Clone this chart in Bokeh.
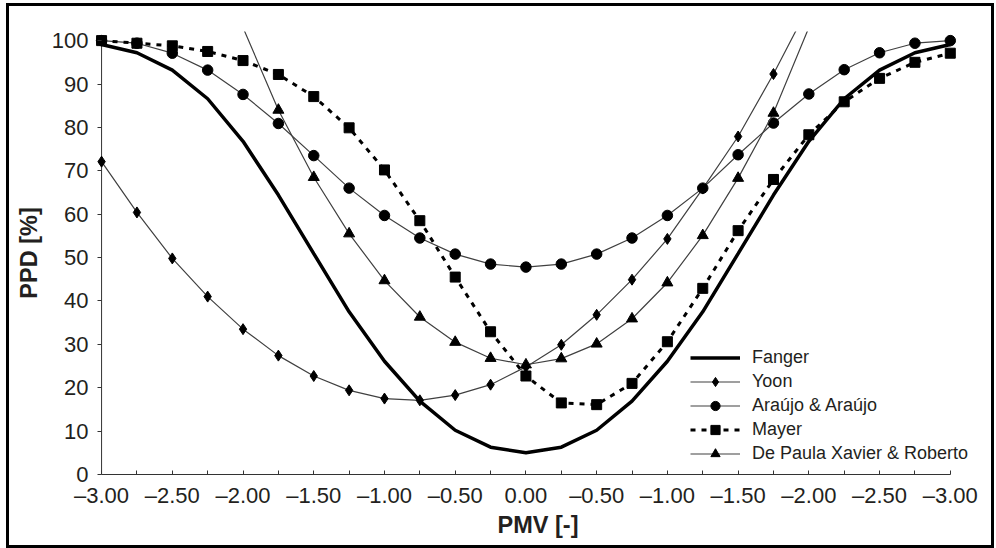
import math
from bokeh.plotting import figure
from bokeh.models import (Range1d, FixedTicker, Legend, LegendItem, ColumnDataSource)
from bokeh.embed import file_html
from bokeh.resources import INLINE

nan = float("nan")

# PMV values (x)
pmv = [-3.00, -2.75, -2.50, -2.25, -2.00, -1.75, -1.50, -1.25, -1.00, -0.75, -0.50, -0.25,
       0.00, 0.25, 0.50, 0.75, 1.00, 1.25, 1.50, 1.75, 2.00, 2.25, 2.50, 2.75, 3.00]

# PPD series (%)
fanger = [99.1, 97.2, 93.2, 86.6, 76.8, 64.4, 50.9, 37.5, 26.1, 16.9, 10.2, 6.3,
          5.0, 6.3, 10.2, 16.9, 26.1, 37.5, 50.9, 64.4, 76.8, 86.6, 93.2, 97.2, 99.1]
yoon = [72.1, 60.4, 49.8, 41.0, 33.5, 27.4, 22.7, 19.4, 17.5, 17.1, 18.3, 20.7,
        24.8, 29.9, 36.8, 44.9, 54.3, 65.9, 77.9, 92.3, 108.0, nan, nan, nan, nan]
araujo = [100.0, 99.4, 97.1, 93.2, 87.6, 80.9, 73.5, 66.0, 59.7, 54.5, 50.8, 48.5,
          47.8, 48.5, 50.8, 54.5, 59.7, 66.0, 73.7, 81.0, 87.7, 93.3, 97.2, 99.4, 100.0]
mayer = [100.0, 99.4, 98.8, 97.5, 95.4, 92.2, 87.1, 79.9, 70.2, 58.5, 45.5, 32.9,
         22.7, 16.5, 16.1, 21.0, 30.6, 42.9, 56.2, 68.0, 78.3, 85.9, 91.3, 95.0, 97.1]
depaula = [nan, nan, nan, nan, 103.0, 84.0, 68.5, 55.5, 44.7, 36.3, 30.5, 26.8,
           25.3, 26.7, 30.1, 35.9, 44.2, 55.1, 68.3, 83.3, 103.0, nan, nan, nan, nan]

series_names = ["Fanger", "Yoon", "Araújo & Araújo", "Mayer", "De Paula Xavier & Roberto"]

x_major = [-3.0, -2.5, -2.0, -1.5, -1.0, -0.5, 0.0, 0.5, 1.0, 1.5, 2.0, 2.5, 3.0]
x_minor = [-2.75, -2.25, -1.75, -1.25, -0.75, -0.25, 0.25, 0.75, 1.25, 1.75, 2.25, 2.75]
x_labels = ["–3.00", "–2.50", "–2.00", "–1.50", "–1.00", "–0.50", "0.00",
            "–0.50", "–1.00", "–1.50", "–2.00", "–2.50", "–3.00"]
y_ticks = [0, 10, 20, 30, 40, 50, 60, 70, 80, 90, 100]

FONT = "Liberation Sans"
TXT = "#231f20"
THIN = "#404040"
AXC = "#333333"

p = figure(width=988, height=545, output_backend="svg", toolbar_location=None,
           x_range=Range1d(-3.05, 3.2206), y_range=Range1d(0, 102.1),
           min_border_left=85, min_border_right=16, min_border_top=25, min_border_bottom=77)
p.styles = {"border": "3px solid black", "box-sizing": "border-box",
            "margin-left": "6px", "margin-top": "3px"}
p.outline_line_color = None
p.grid.visible = False
p.background_fill_color = "white"
p.border_fill_color = "white"

def markers_src(vals):
    xs = [x for x, v in zip(pmv, vals) if not math.isnan(v) and v <= 101]
    ys = [v for v in vals if not math.isnan(v) and v <= 101]
    return ColumnDataSource(dict(x=xs, y=ys))

# y axis line at x = -3 (from 0 to 100)
p.segment(x0=[pmv[0]], y0=[y_ticks[0]], x1=[pmv[0]], y1=[y_ticks[-1]],
          line_color=AXC, line_width=1)

r_f = p.line(pmv, fanger, line_color="black", line_width=3.5)

r_y = p.line(pmv, yoon, line_color=THIN, line_width=1.2)
m_y = p.scatter("x", "y", source=markers_src(yoon), marker="diamond", size=11,
                fill_color="black", line_color="black")

r_a = p.line(pmv, araujo, line_color=THIN, line_width=1.2)
m_a = p.scatter("x", "y", source=markers_src(araujo), marker="circle", size=10.5,
                fill_color="black", line_color="black")

r_m = p.line(pmv, mayer, line_color="black", line_width=3, line_dash="5 6")
m_m = p.scatter("x", "y", source=markers_src(mayer), marker="square", size=10,
                fill_color="black", line_color="black")

r_d = p.line(pmv, depaula, line_color=THIN, line_width=1.2)
m_d = p.scatter("x", "y", source=markers_src(depaula), marker="triangle", size=11,
                fill_color="black", line_color="black")

# Axes
xa = p.xaxis[0]
xa.ticker = FixedTicker(ticks=x_major, minor_ticks=x_minor)
xa.major_label_overrides = {k: v for k, v in zip(x_major, x_labels)}
xa.bounds = (-3, 3)
xa.axis_label = "PMV [-]"
xa.major_tick_in = 4
xa.major_tick_out = 0
xa.minor_tick_in = 4
xa.minor_tick_out = 0
xa.major_label_standoff = 8
xa.axis_label_standoff = 1
xa.axis_line_color = AXC

ya = p.yaxis[0]
ya.ticker = FixedTicker(ticks=y_ticks, minor_ticks=[])
ya.bounds = (0, 100)
ya.axis_label = "PPD [%]"
ya.axis_line_color = None
ya.major_tick_in = 7
ya.major_tick_out = -3
ya.minor_tick_in = 0
ya.minor_tick_out = 0
ya.major_label_standoff = 6
ya.axis_label_standoff = 7

for ax in (xa, ya):
    ax.major_tick_line_color = AXC
    ax.minor_tick_line_color = AXC
    ax.major_label_text_font = FONT
    ax.major_label_text_font_size = "22px"
    ax.major_label_text_color = TXT
    ax.axis_label_text_font = FONT
    ax.axis_label_text_font_size = "23.5px"
    ax.axis_label_text_font_style = "bold"
    ax.axis_label_text_color = TXT

legend = Legend(items=[
    LegendItem(label=series_names[0], renderers=[r_f]),
    LegendItem(label=series_names[1], renderers=[r_y, m_y]),
    LegendItem(label=series_names[2], renderers=[r_a, m_a]),
    LegendItem(label=series_names[3], renderers=[r_m, m_m]),
    LegendItem(label=series_names[4], renderers=[r_d, m_d]),
], location=(596, 9))
legend.border_line_color = None
legend.background_fill_alpha = 0
legend.padding = 0
legend.margin = 0
legend.spacing = 1
legend.glyph_width = 50
legend.glyph_height = 23
legend.label_height = 23
legend.label_standoff = 12
legend.label_text_font = FONT
legend.label_text_font_size = "18px"
legend.label_text_color = TXT
p.add_layout(legend, "center")

open("out.html", "w").write(file_html(p, INLINE))
